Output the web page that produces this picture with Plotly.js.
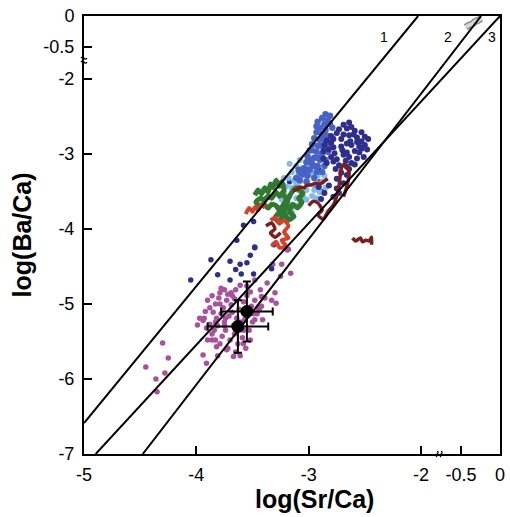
<!DOCTYPE html>
<html>
<head>
<meta charset="utf-8">
<script src="https://cdn.plot.ly/plotly-3.0.1.min.js"></script>
<style>html,body{margin:0;padding:0;background:#fff;}#chart{width:510px;height:517px;}</style>
</head>
<body>
<div id="chart"></div>
<script>
// ---------- data (log units) ----------
const magentaX = [-3.90,-3.86,-3.83,-3.80,-3.76,-3.73,-3.69,-3.66,-3.62,-3.58,-3.55,-3.51,-3.48,-3.44,-3.85,-3.82,-3.78,-3.75,-3.71,-3.67,-3.64,-3.60,-3.57,-3.53,-3.50,-3.46,-3.88,-3.84,-3.81,-3.77,-3.74,-3.70,-3.66,-3.63,-3.59,-3.56,-3.83,-3.79,-3.72,-3.65,-3.58,-3.52,-3.91,-3.93,-3.42,-3.39,-3.55,-3.65,-3.72,-3.75,-3.86,-3.74,-3.68,-3.61,-3.49,-3.88,-3.43,-3.52,-3.81,-3.61,-3.75,-3.65,-3.54,-3.83,-3.58,-3.68,-3.90,-3.79,
  -4.45,-4.36,-4.35,-4.28,-4.30,-4.25,-3.94,-3.91,-3.86,-3.97,-3.94,-3.92,-3.79,-3.78,-3.69,-3.61,-3.48,-3.37,-3.30,-3.25,-3.24,-3.19,-3.16,-3.32,-3.29,-3.33,-3.42,-3.45,-3.41,-3.48,-3.67,-3.73,-3.82,-3.99,-3.18];
const magentaY = [-4.95,-4.89,-5.00,-4.92,-5.05,-4.95,-5.01,-4.93,-5.07,-4.97,-4.89,-5.03,-4.95,-5.08,-5.11,-5.19,-5.13,-5.24,-5.16,-5.29,-5.19,-5.32,-5.21,-5.35,-5.24,-5.13,-5.27,-5.35,-5.29,-5.43,-5.35,-5.48,-5.40,-5.53,-5.45,-5.59,-5.48,-5.53,-5.59,-5.64,-5.35,-5.48,-5.32,-5.19,-5.03,-4.92,-4.76,-4.81,-4.87,-4.81,-5.40,-5.19,-5.11,-5.24,-5.13,-5.05,-4.81,-4.84,-5.69,-5.69,-5.29,-5.35,-5.08,-5.24,-5.53,-4.89,-5.48,-5.00,
  -5.84,-6.00,-6.17,-5.92,-5.52,-5.72,-5.68,-5.79,-5.48,-5.19,-5.22,-5.10,-4.85,-4.79,-4.85,-4.75,-4.68,-4.72,-4.85,-4.63,-4.47,-4.28,-4.59,-4.47,-4.99,-4.95,-4.90,-5.05,-5.21,-5.21,-5.70,-5.61,-5.57,-5.28,-4.27];

const navyScatterX = [-3.64,-3.48,-3.87,-4.05,-3.70,-3.52,-3.61,-3.55,-3.65,-3.81,-3.70,-3.49,-3.31,-3.60,-3.33,-3.58,-3.49,-3.48,-3.25,-3.17,-3.09,-3.03,-2.91,-2.90,-2.94,-2.87];
const navyScatterY = [-4.15,-4.25,-4.41,-4.68,-4.43,-4.35,-4.47,-4.45,-4.54,-4.61,-4.68,-4.60,-4.21,-4.60,-4.53,-3.95,-3.90,-4.24,-3.57,-3.37,-3.35,-3.24,-3.21,-3.37,-3.46,-3.50];

const navyClusterX = [-2.69,-2.64,-2.62,-2.66,-2.73,-2.75,-2.59,-2.53,-2.50,-2.47,-2.53,-2.57,-2.60,-2.64,-2.69,-2.71,-2.78,-2.80,-2.86,-2.87,-2.82,-2.78,-2.71,-2.66,-2.62,-2.55,-2.53,-2.48,-2.55,-2.59,-2.66,-2.69,-2.77,-2.80,-2.87,-2.78,-2.75,-2.67,-2.64,-2.57,-2.62,-2.66,-2.73,-2.76,-2.84,-2.71,-2.66,-2.75,-2.69,-2.75,-2.73,-2.78,-2.86,-2.89,-2.82,-2.91,-2.64,-2.59,-2.51,-2.50,-2.80,-2.84,-2.63,-2.57,-2.70];
const navyClusterY = [-2.61,-2.58,-2.64,-2.66,-2.67,-2.72,-2.69,-2.71,-2.77,-2.80,-2.83,-2.78,-2.74,-2.75,-2.74,-2.80,-2.80,-2.85,-2.88,-2.96,-2.94,-2.91,-2.90,-2.86,-2.88,-2.90,-2.93,-2.94,-2.98,-2.96,-2.98,-3.01,-2.99,-3.04,-3.06,-3.10,-3.07,-3.09,-3.04,-3.06,-3.12,-3.17,-3.15,-3.20,-3.12,-3.25,-3.28,-3.33,-3.39,-3.46,-3.52,-3.57,-3.52,-3.60,-3.42,-3.44,-3.20,-3.14,-3.04,-2.88,-2.76,-2.82,-2.83,-2.84,-2.95];

const royalX = [-2.85,-2.81,-2.88,-2.83,-2.92,-2.86,-2.81,-2.90,-2.85,-2.93,-2.88,-2.83,-2.95,-2.90,-2.85,-2.97,-2.92,-2.86,-2.81,-2.99,-2.93,-2.88,-2.83,-3.01,-2.95,-2.90,-2.85,-3.02,-2.97,-2.92,-2.86,-3.04,-2.99,-2.93,-2.88,-3.06,-3.01,-2.95,-3.08,-3.02,-2.92,-2.97,-2.86,-2.90,-2.95,-2.99,-2.93,-3.02,-3.08,-3.11,-3.09,-2.79,-2.79];
const royalY = [-2.47,-2.49,-2.52,-2.55,-2.57,-2.60,-2.60,-2.65,-2.68,-2.71,-2.73,-2.76,-2.79,-2.81,-2.84,-2.87,-2.89,-2.92,-2.89,-2.95,-2.97,-3.00,-2.97,-3.03,-3.05,-3.08,-3.08,-3.11,-3.13,-3.16,-3.16,-3.19,-3.21,-3.24,-3.24,-3.27,-3.29,-3.32,-3.35,-3.37,-3.05,-2.95,-2.76,-2.89,-3.16,-3.08,-2.63,-3.21,-3.24,-3.32,-3.21,-2.65,-2.79];

const lightX = [-3.08,-3.02,-3.11,-3.06,-2.99,-3.15,-3.09,-3.04,-2.97,-2.92,-3.18,-3.13,-3.08,-3.01,-2.93,-2.88,-3.20,-3.15,-3.09,-3.02,-2.95,-2.90,-3.17,-3.11,-3.04,-2.97,-3.18,-3.13,-3.08,-3.20,-3.15,-3.24,-3.26,-2.99,-3.11,-3.06,-3.22,-3.02,-2.93,-2.86,-2.85,-3.17,-3.22,-3.27,-3.18];
const lightY = [-3.08,-3.11,-3.16,-3.19,-3.16,-3.24,-3.27,-3.29,-3.27,-3.29,-3.32,-3.35,-3.37,-3.37,-3.40,-3.37,-3.43,-3.45,-3.48,-3.48,-3.48,-3.51,-3.56,-3.59,-3.59,-3.56,-3.67,-3.69,-3.67,-3.75,-3.77,-3.61,-3.72,-3.24,-3.40,-3.53,-3.51,-3.61,-3.59,-3.29,-3.45,-3.13,-3.32,-3.80,-3.83];

const greenX = [-3.48,-3.45,-3.42,-3.39,-3.36,-3.34,-3.32,-3.29,-3.26,-3.24,-3.22,-3.26,-3.29,-3.33,-3.36,-3.40,-3.43,-3.47,-3.44,-3.40,-3.36,-3.33,-3.29,-3.26,-3.30,-3.26,-3.23,-3.20,-3.18,-3.15,-3.11,-3.08,-3.05,-3.09,-3.06,-3.10,-3.14,-3.17,-3.13,-3.18,-3.21,-3.24,-3.20,-3.23];
const greenY = [-3.55,-3.48,-3.53,-3.45,-3.51,-3.40,-3.45,-3.35,-3.43,-3.37,-3.48,-3.56,-3.51,-3.59,-3.56,-3.61,-3.59,-3.64,-3.69,-3.67,-3.72,-3.67,-3.69,-3.77,-3.85,-3.91,-3.80,-3.69,-3.59,-3.51,-3.45,-3.48,-3.53,-3.59,-3.64,-3.72,-3.67,-3.77,-3.83,-3.88,-3.80,-3.72,-3.61,-3.53];

const red1X = [-3.56,-3.53,-3.50,-3.48,-3.45,-3.42,-3.39];
const red1Y = [-3.80,-3.72,-3.77,-3.71,-3.75,-3.67,-3.72];
const red2X = [-3.34,-3.29,-3.26,-3.22,-3.18,-3.22,-3.18,-3.24,-3.20,-3.26,-3.29,-3.33];
const red2Y = [-3.88,-3.85,-3.93,-3.88,-3.96,-4.04,-4.12,-4.15,-4.23,-4.25,-4.17,-4.23];

const maroonAX = [-3.14,-3.10,-3.08,-3.04,-3.02,-2.97,-2.94,-2.90,-2.86,-2.83];
const maroonAY = [-3.49,-3.47,-3.44,-3.45,-3.42,-3.41,-3.39,-3.40,-3.36,-3.33];
const maroonBX = [-3.00,-2.96,-2.92,-2.88,-2.92,-2.87,-2.83,-2.78,-2.75,-2.73,-2.72,-2.71,-2.68,-2.66,-2.64,-2.65,-2.67,-2.69];
const maroonBY = [-3.69,-3.63,-3.65,-3.75,-3.81,-3.87,-3.77,-3.68,-3.56,-3.43,-3.29,-3.19,-3.13,-3.16,-3.25,-3.37,-3.48,-3.57];
const maroonCX = [-3.38,-3.33,-3.30,-3.34,-3.30,-3.25];
const maroonCY = [-3.96,-3.92,-4.00,-4.05,-4.11,-4.05];
const maroonDX = [-2.61,-2.58,-2.54,-2.52,-2.49,-2.46,-2.44,-2.44];
const maroonDY = [-4.12,-4.16,-4.12,-4.17,-4.15,-4.16,-4.11,-4.21];

const grayX = [-0.44,-0.40,-0.36,-0.32,-0.28,-0.24];
const grayY = [-0.18,-0.15,-0.13,-0.09,-0.07,-0.04];

const meanX = [-3.55,-3.63];
const meanY = [-5.10,-5.30];
const meanXErr = [0.23,0.27];
const meanYErr = [0.40,0.35];

const line1X = [-5.0,-2.026], line1Y = [-6.587,0];
const line2X = [-4.477,-0.242], line2Y = [-7,0];
const line3X = [-4.896,0], line3Y = [-7,0];
const lineLabels = ['1','2','3'];

const xTickVals = [-5,-4,-3,-2,-0.5,0];
const xTickText = ['-5','-4','-3','-2','-0.5','0'];
const yTickVals = [0,-0.5,-2,-3,-4,-5,-6,-7];
const yTickText = ['0','-0.5','-2','-3','-4','-5','-6','-7'];

// ---------- broken-axis mapping ----------
const fx = x => x <= -2 ? x : -1.644 + (x + 0.5) * 0.694;
const fy = y => y <= -2 ? y : -1.573 + (y + 0.5) * 0.826;
const mx = a => a.map(fx), my = a => a.map(fy);

const FONT = 'Liberation Sans, Arial, Helvetica, sans-serif';
function dots(X, Y, color, size){
  return {type:'scatter', mode:'markers', x:mx(X), y:my(Y), marker:{color:color, size:size, line:{width:0}}, hoverinfo:'skip'};
}
function path(X, Y, color, width){
  return {type:'scatter', mode:'lines', x:mx(X), y:my(Y), line:{color:color, width:width, shape:'spline', smoothing:0.6}, hoverinfo:'skip'};
}
function refLine(X, Y){
  return {type:'scatter', mode:'lines', x:mx(X), y:my(Y), line:{color:'#000', width:2}, hoverinfo:'skip'};
}

const traces = [
  dots(magentaX, magentaY, '#a9519f', 5.5),
  dots(navyScatterX, navyScatterY, '#2e2f8d', 5.5),
  dots(lightX, lightY, '#86baeb', 6),
  dots(royalX, royalY, '#4862c6', 6.5),
  dots(navyClusterX, navyClusterY, '#2e2f8d', 6),
  path(greenX, greenY, '#2f7a2f', 5),
  path(red1X, red1Y, '#d4412a', 4),
  path(red2X, red2Y, '#d4412a', 4),
  path(maroonAX, maroonAY, '#7b1e1e', 3.5),
  path(maroonBX, maroonBY, '#7b1e1e', 3.5),
  path(maroonCX, maroonCY, '#7b1e1e', 3.5),
  path(maroonDX, maroonDY, '#7b1e1e', 3.5),
  path(grayX, grayY, '#8a8a8a', 7),
  path(grayX, grayY, '#d6d6d6', 4),
  refLine(line1X, line1Y),
  refLine(line2X, line2Y),
  refLine(line3X, line3Y),
  {type:'scatter', mode:'markers', x:mx(meanX), y:my(meanY),
   marker:{color:'#000', size:13},
   error_x:{type:'data', array:meanXErr, color:'#000', thickness:2, width:4},
   error_y:{type:'data', array:meanYErr, color:'#000', thickness:2, width:4},
   hoverinfo:'skip'}
];

const labelPos = [[-2.33,-1.44],[-1.76,-1.44],[-1.37,-1.44]];
const annotations = lineLabels.map((t,i)=>({x:labelPos[i][0], y:labelPos[i][1], xref:'x', yref:'y', text:t, showarrow:false, font:{family:FONT, size:14, color:'#000'}}));
annotations.push({xref:'paper', yref:'paper', x:0.553, y:-0.103, text:'<b>log(Sr/Ca)</b>', showarrow:false, font:{family:FONT, size:25, color:'#000'}, xanchor:'center', yanchor:'middle'});
annotations.push({xref:'paper', yref:'paper', x:-0.148, y:0.5, text:'<b>log(Ba/Ca)</b>', textangle:-90, showarrow:false, font:{family:FONT, size:25, color:'#000'}, xanchor:'center', yanchor:'middle'});

// axis-break squiggles
const shapes = [
  {type:'path', xref:'paper', yref:'y', xsizemode:'pixel', ysizemode:'pixel', xanchor:0, yanchor:-1.747,
   path:'M-3,2 Q-1.5,4 0,2 T3,2 M-3,-2 Q-1.5,0 0,-2 T3,-2', line:{color:'#000', width:1.2}},
  {type:'path', xref:'x', yref:'paper', xsizemode:'pixel', ysizemode:'pixel', xanchor:-1.839, yanchor:0,
   path:'M-2,-3 Q-4,-1.5 -2,0 T-2,3 M2,-3 Q0,-1.5 2,0 T2,3', line:{color:'#000', width:1.2}}
];

const axisBase = {showgrid:false, zeroline:false, showline:true, mirror:true, linecolor:'#000', linewidth:2,
  ticks:'inside', ticklen:8, tickwidth:2, tickcolor:'#000', tickfont:{family:FONT, size:18, color:'#000'}, tickmode:'array'};

const layout = {
  width:510, height:517,
  margin:{l:84, r:10, t:16, b:63},
  paper_bgcolor:'#fff', plot_bgcolor:'#fff',
  showlegend:false,
  xaxis:Object.assign({}, axisBase, {range:[-5, fx(0)], tickvals:xTickVals.map(fx), ticktext:xTickText, ticklabelstandoff:3}),
  yaxis:Object.assign({}, axisBase, {range:[-7, fy(0)], tickvals:yTickVals.map(fy), ticktext:yTickText, ticklabelstandoff:4}),
  annotations:annotations,
  shapes:shapes
};

Plotly.newPlot('chart', traces, layout, {staticPlot:true, displayModeBar:false});
</script>
</body>
</html>
